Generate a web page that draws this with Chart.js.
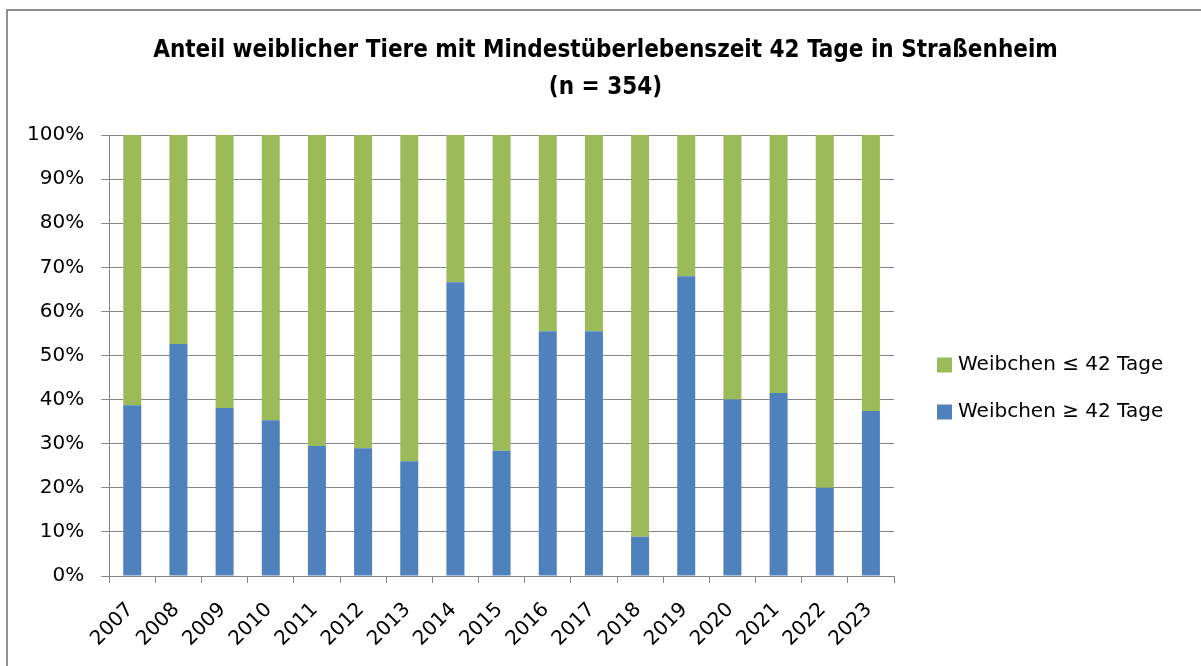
<!DOCTYPE html>
<html>
<head>
<meta charset="utf-8">
<script src="https://cdn.jsdelivr.net/npm/chart.js@4"></script>
<style>
  html, body { margin: 0; padding: 0; background: #fff; }
  #wrap { position: relative; width: 1201px; height: 666px; overflow: hidden; }
  #frame { position: absolute; left: 6px; top: 9px; width: 1300px; height: 800px;
           border-left: 2px solid #8e8e8e; border-top: 2px solid #8e8e8e; }
  #chart { position: absolute; left: 0; top: 0; }
</style>
</head>
<body>
<div id="wrap">
  <div id="frame"></div>
  <canvas id="chart" width="1201" height="666"></canvas>
</div>
<script>
// --- data ---
const years = ['2007', '2008', '2009', '2010', '2011', '2012', '2013', '2014', '2015',
               '2016', '2017', '2018', '2019', '2020', '2021', '2022', '2023'];
// share (%) of females surviving at least 42 days
const longSurvivors = [38.7, 52.6, 38.1, 35.3, 29.5, 29.0, 26.0, 66.6, 28.4,
                       55.5, 55.5, 8.9, 68.0, 40.0, 41.5, 20.0, 37.4];
// share (%) of females surviving up to 42 days
const shortSurvivors = [61.3, 47.4, 61.9, 64.7, 70.5, 71.0, 74.0, 33.4, 71.6,
                        44.5, 44.5, 91.1, 32.0, 60.0, 58.5, 80.0, 62.6];
const seriesLabels = ['Weibchen \u2265 42 Tage', 'Weibchen \u2264 42 Tage'];
const titleLines = ['Anteil weiblicher Tiere mit Mindest\u00fcberlebenszeit 42 Tage in Stra\u00dfenheim', '(n = 354)'];

const blue = '#4f81bd';
const green = '#9bbb59';
const gridGray = '#868686';
const fontFamily = '"DejaVu Sans", sans-serif';

// legend drawn at the right, green entry first like the original
const sideLegend = {
  id: 'sideLegend',
  afterDraw(chart) {
    const ctx = chart.ctx;
    const items = chart.data.datasets.slice().reverse();
    ctx.save();
    ctx.font = '20px ' + fontFamily;
    ctx.textBaseline = 'middle';
    items.forEach((ds, i) => {
      const y = 365 + i * 47;
      ctx.fillStyle = ds.backgroundColor;
      ctx.fillRect(937, y - 7.5, 15, 15);
      ctx.fillStyle = '#000';
      ctx.fillText(ds.label, 958, y);
    });
    ctx.restore();
  }
};

const ctx = document.getElementById('chart').getContext('2d');
new Chart(ctx, {
  type: 'bar',
  data: {
    labels: years,
    datasets: [
      { label: seriesLabels[0], data: longSurvivors, backgroundColor: blue },
      { label: seriesLabels[1], data: shortSurvivors, backgroundColor: green }
    ]
  },
  options: {
    responsive: false,
    animation: false,
    barPercentage: 0.39,
    categoryPercentage: 1,
    layout: { padding: { left: 10, right: 0, top: 0, bottom: 0 } },
    plugins: {
      legend: { display: false },
      tooltip: { enabled: false },
      title: {
        display: true,
        text: titleLines,
        color: '#000',
        font: { family: '"DejaVu Sans Condensed", "DejaVu Sans", sans-serif', size: 24, weight: 'bold', lineHeight: 37 / 24 },
        padding: { top: 32, bottom: 29 }
      }
    },
    scales: {
      x: {
        stacked: true,
        grid: { display: true, drawOnChartArea: false, drawTicks: true, tickLength: 7, color: gridGray, offset: true },
        border: { color: gridGray, width: 1 },
        ticks: { color: '#000', font: { family: fontFamily, size: 20 }, minRotation: 45, maxRotation: 45, padding: 15, labelOffset: -2 }
      },
      y: {
        stacked: true,
        min: 0,
        max: 100,
        grid: { color: gridGray, lineWidth: 1, tickLength: 8 },
        border: { color: gridGray, width: 1 },
        ticks: { stepSize: 10, color: '#000', padding: 17, font: { family: fontFamily, size: 20 },
                 callback: v => v + '%' }
      },
      // empty right-hand axis that only keeps room free for the legend
      legendSpace: {
        type: 'linear',
        position: 'right',
        grid: { display: false },
        border: { display: false },
        ticks: { display: false },
        afterFit: scale => { scale.width = 307; }
      }
    }
  },
  plugins: [sideLegend]
});
</script>
</body>
</html>
